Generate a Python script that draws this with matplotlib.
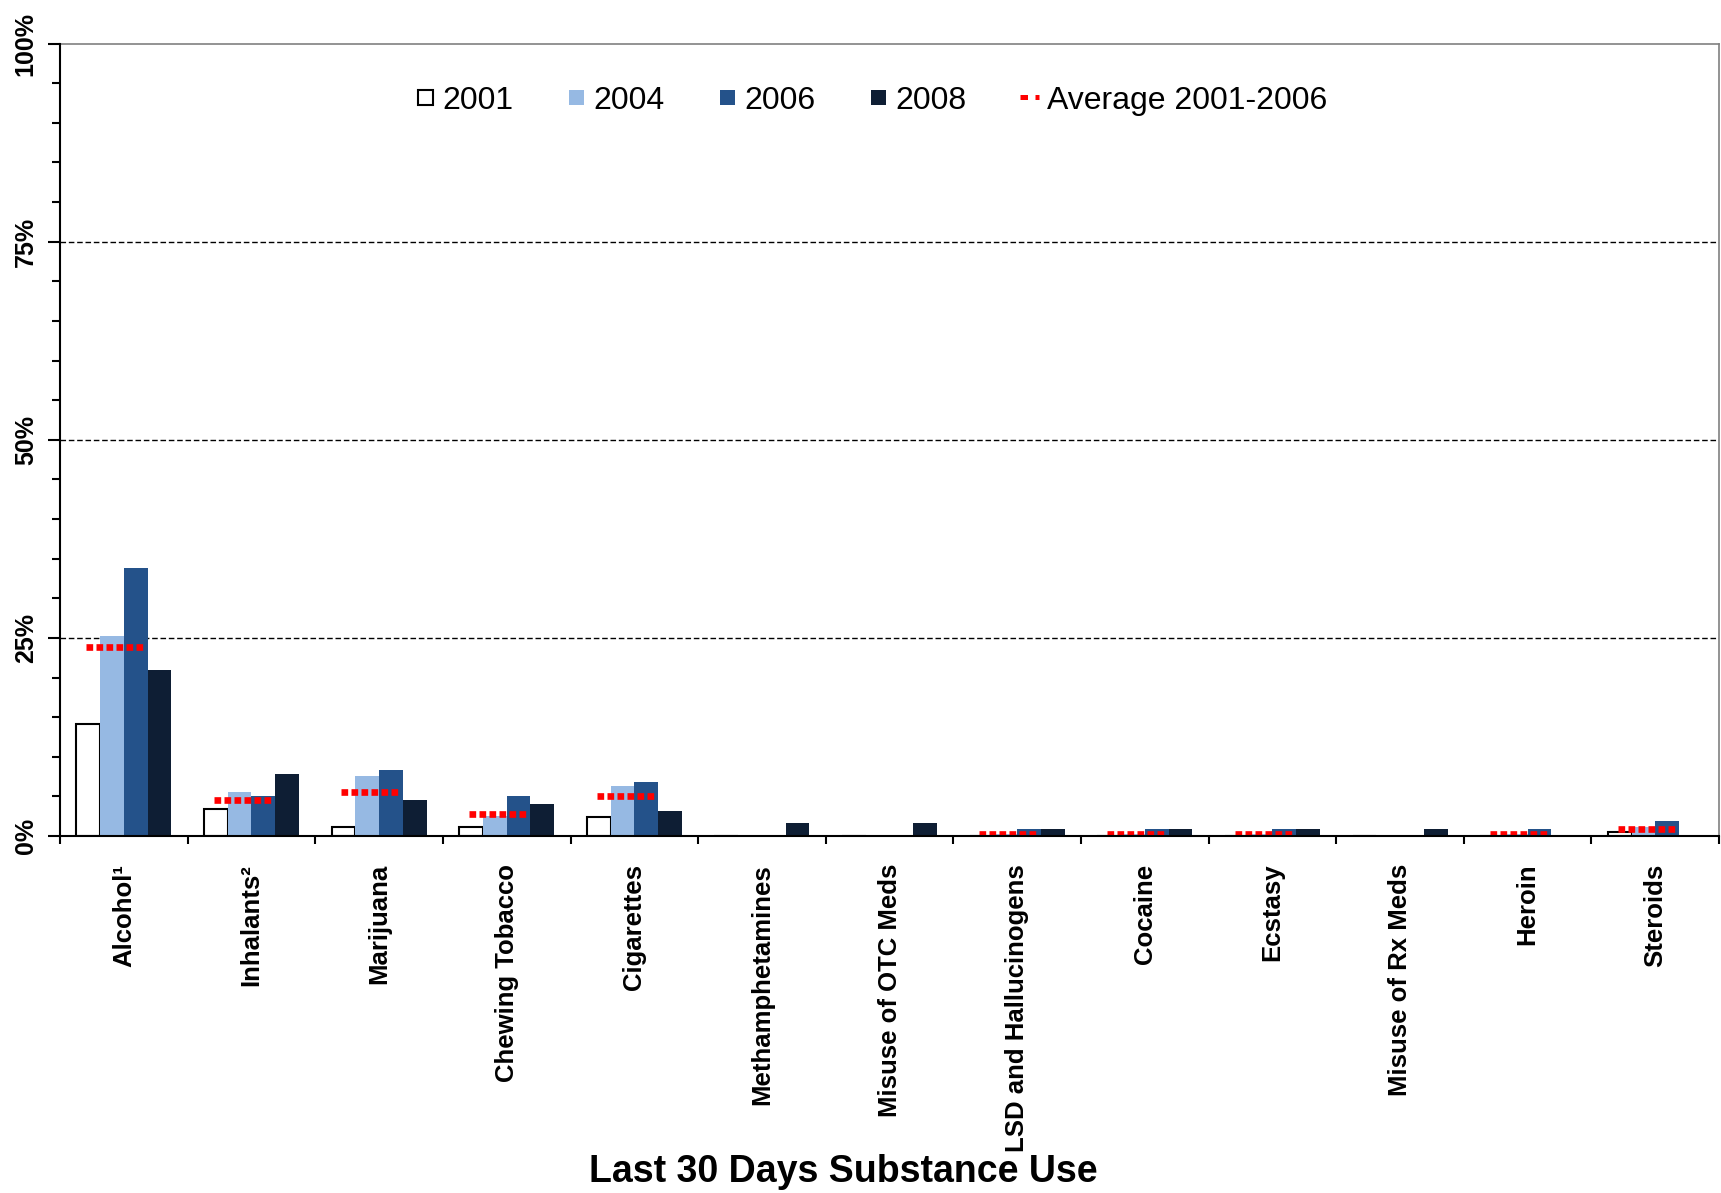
import numpy as np
import matplotlib
matplotlib.use('Agg')
import matplotlib.pyplot as plt
from matplotlib.lines import Line2D

plt.rcParams['font.family'] = ['Liberation Sans', 'DejaVu Sans']

categories = ['Alcohol\u00b9', 'Inhalants\u00b2', 'Marijuana', 'Chewing Tobacco', 'Cigarettes',
              'Methamphetamines', 'Misuse of OTC Meds', 'LSD and Hallucinogens', 'Cocaine',
              'Ecstasy', 'Misuse of Rx Meds', 'Heroin', 'Steroids']
years = ['2001', '2004', '2006', '2008']
v2001 = [14.1, 3.4, 1.15, 1.2, 2.45, 0, 0, 0, 0, 0, 0, 0, 0.55]
v2004 = [25.3, 5.5, 7.55, 2.5, 6.35, 0, 0, 0.3, 0.3, 0.3, 0, 0.3, 1.2]
v2006 = [33.8, 5.0, 8.3, 5.1, 6.85, 0, 0, 0.9, 0.9, 0.9, 0, 0.9, 1.95]
v2008 = [21.0, 7.8, 4.5, 4.1, 3.1, 1.6, 1.65, 0.9, 0.9, 0.9, 0.9, 0, 0]
avg = [23.9, 4.5, 5.5, 2.8, 5.1, np.nan, np.nan, 0.3, 0.3, 0.3, np.nan, 0.3, 0.95]
ytick_vals = [0, 25, 50, 75, 100]
grid_vals = [25, 50, 75]

colors = ['white', '#96B9E3', '#24528A', '#0E1E34']
series = [v2001, v2004, v2006, v2008]

fig = plt.figure(figsize=(17.21, 11.93), dpi=100)
ax = fig.add_axes([0.0349, 0.2992, 0.9640, 0.6643])

x = np.arange(len(categories))
w = 0.186
for i, vals in enumerate(series):
    if i == 0:
        ax.bar(x + (i - 1.5) * w, vals, w, color=colors[i], edgecolor='black', linewidth=1.5, zorder=3)
    else:
        ax.bar(x + (i - 1.5) * w, vals, w, color=colors[i], linewidth=0, zorder=3)

for xi, a in zip(x, avg):
    if not np.isnan(a):
        ax.plot([xi - 0.296, xi + 0.166], [a, a], color='red', lw=4.8, dashes=(1, 0.5),
                dash_capstyle='butt', zorder=4)

for g in grid_vals:
    ax.axhline(g, color='black', lw=1.0, ls=(0, (4, 2)), zorder=1)

ax.set_xlim(-0.5, len(categories) - 0.5)
ax.set_ylim(0, 100)

ax.set_yticks(ytick_vals)
ax.set_yticklabels([f'{v}%' for v in ytick_vals], rotation=90, va='center',
                   fontsize=18, fontweight='bold')
ax.set_yticks(np.arange(0, 101, 5), minor=True)
ax.tick_params(axis='y', which='major', length=9, width=1.5, pad=7)
ax.tick_params(axis='y', which='minor', length=6, width=1.5)

ax.set_xticks(x)
ax.set_xticklabels(categories, rotation=90, fontsize=18.5, fontweight='bold')
ax.set_xticks(np.arange(-0.5, len(categories), 1), minor=True)
ax.tick_params(axis='x', which='major', length=0, pad=20)
ax.tick_params(axis='x', which='minor', length=6, width=1.5)

for s in ['left', 'bottom']:
    ax.spines[s].set_linewidth(1.5)
    ax.spines[s].set_zorder(5)
for s in ['top', 'right']:
    ax.spines[s].set_color('#808080')
    ax.spines[s].set_linewidth(1.2)

handles = []
for i, y in enumerate(years):
    handles.append(Line2D([], [], marker='s', ls='none', markersize=10.8,
                          markerfacecolor=colors[i],
                          markeredgecolor='black' if i == 0 else colors[i],
                          markeredgewidth=1.5 if i == 0 else 0))
handles.append(Line2D([], [], color='red', lw=3.6, dashes=(1.5, 1.5), dash_capstyle='butt'))
ax.legend(handles, years + ['Average 2001-2006'], loc='center', bbox_to_anchor=(0.489, 0.928),
          ncol=5, frameon=False, fontsize=23, handlelength=0.6, handletextpad=0.25,
          columnspacing=1.65)

fig.text(0.49, 0.0176, 'Last 30 Days Substance Use', fontsize=27, fontweight='bold',
         ha='center', va='center')

plt.savefig('out.png', dpi=100)
